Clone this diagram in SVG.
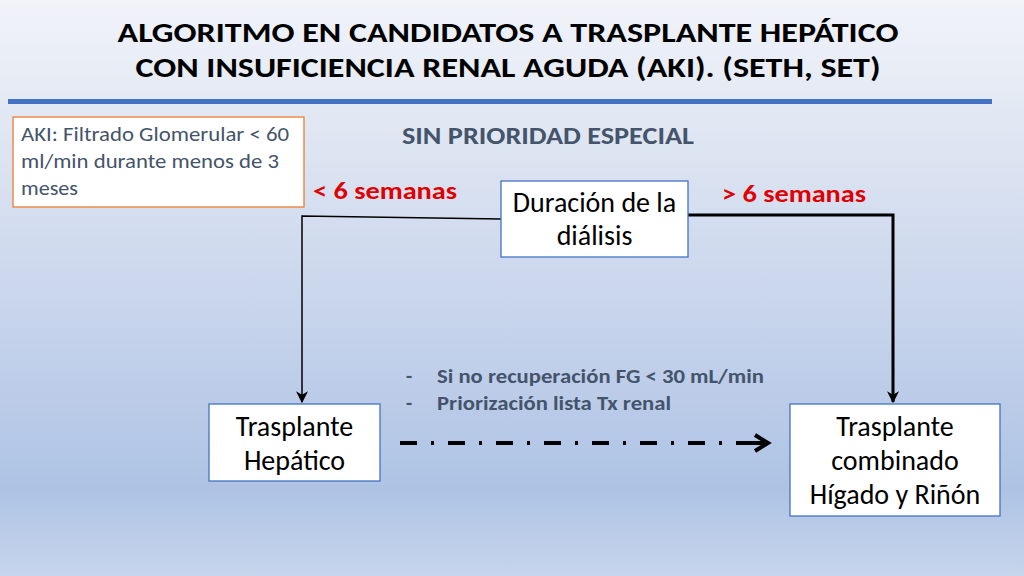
<svg xmlns="http://www.w3.org/2000/svg" width="1024" height="576" viewBox="0 0 1024 576">
<defs>
<linearGradient id="bg" x1="0" y1="0" x2="0" y2="1">
<stop offset="0" stop-color="#f1f3f9"/>
<stop offset="0.2" stop-color="#e2e8f3"/>
<stop offset="0.6" stop-color="#c3d1eb"/>
<stop offset="0.85" stop-color="#aec3e4"/>
<stop offset="1" stop-color="#c7d5ed"/>
</linearGradient>
<marker id="ah" viewBox="0 0 10 10" refX="9" refY="5" markerWidth="12" markerHeight="12" markerUnits="userSpaceOnUse" orient="auto">
<path d="M0,0 L10,5 L0,10 L3,5 Z" fill="#000"/>
</marker>
</defs>
<style>
.t{font-family:Carlito,Calibri,"Liberation Sans",sans-serif}
.box{fill:#fff;stroke:#4472c4;stroke-width:1.3}
.nt{font-size:28px;fill:#000;text-anchor:middle}
.red{font-size:24px;font-weight:bold;fill:#e00000}
.gray{fill:#44546a}
</style>
<rect width="1024" height="576" fill="url(#bg)"/>
<g id="title" class="t" font-weight="bold" font-size="28" text-anchor="middle" fill="#000">
<text x="508" y="42" textLength="781" lengthAdjust="spacingAndGlyphs">ALGORITMO EN CANDIDATOS A TRASPLANTE HEPÁTICO</text>
<text x="508" y="77" textLength="745" lengthAdjust="spacingAndGlyphs">CON INSUFICIENCIA RENAL AGUDA (AKI). (SETH, SET)</text>
</g>
<rect x="8" y="99" width="984" height="5" fill="#4472c4"/>
<g id="aki-note">
<rect x="13" y="117" width="291" height="90" fill="#fff" stroke="#ed7d31" stroke-width="1.3"/>
<g class="t gray" font-size="20">
<text x="21" y="141" textLength="268" lengthAdjust="spacingAndGlyphs">AKI: Filtrado Glomerular &lt; 60</text>
<text x="21" y="168" textLength="258" lengthAdjust="spacingAndGlyphs">ml/min durante menos de 3</text>
<text x="21" y="195" textLength="57" lengthAdjust="spacingAndGlyphs">meses</text>
</g>
</g>
<text class="t gray" x="548" y="144" font-size="24" font-weight="bold" text-anchor="middle" textLength="292" lengthAdjust="spacingAndGlyphs">SIN PRIORIDAD ESPECIAL</text>
<text class="t red" x="313" y="199" textLength="144" lengthAdjust="spacingAndGlyphs">&lt; 6 semanas</text>
<text class="t red" x="722" y="202" textLength="144" lengthAdjust="spacingAndGlyphs">&gt; 6 semanas</text>
<g id="connectors" fill="none" stroke="#000">
<polyline points="501,219 302,216 302,402" stroke-width="1.5" marker-end="url(#ah)"/>
<polyline points="688,215 893,215 893,402" stroke-width="3" marker-end="url(#ah)"/>
<line x1="400" y1="443" x2="736" y2="443" stroke-width="4" stroke-dasharray="17 14 3 14"/>
<line x1="736" y1="443" x2="766" y2="443" stroke-width="4"/>
<polyline points="755,435 768,443 755,451" stroke-width="4"/>
</g>
<g id="duracion">
<rect class="box" x="501" y="181" width="187" height="76"/>
<text class="t nt" x="594.5" y="212">Duración de la</text>
<text class="t nt" x="594.5" y="245">diálisis</text>
</g>
<g id="bullets" class="t gray" font-size="20" font-weight="bold">
<text x="406" y="383">-</text>
<text x="437" y="383" textLength="327" lengthAdjust="spacingAndGlyphs">Si no recuperación FG &lt; 30 mL/min</text>
<text x="406" y="410">-</text>
<text x="437" y="410" textLength="234" lengthAdjust="spacingAndGlyphs">Priorización lista Tx renal</text>
</g>
<g id="hepatico">
<rect class="box" x="209" y="404" width="171" height="77"/>
<text class="t nt" x="294.5" y="436">Trasplante</text>
<text class="t nt" x="294.5" y="470">Hepático</text>
</g>
<g id="combinado">
<rect class="box" x="790" y="404" width="210" height="112"/>
<text class="t nt" x="895" y="436">Trasplante</text>
<text class="t nt" x="895" y="470">combinado</text>
<text class="t nt" x="895" y="504">Hígado y Riñón</text>
</g>
</svg>
